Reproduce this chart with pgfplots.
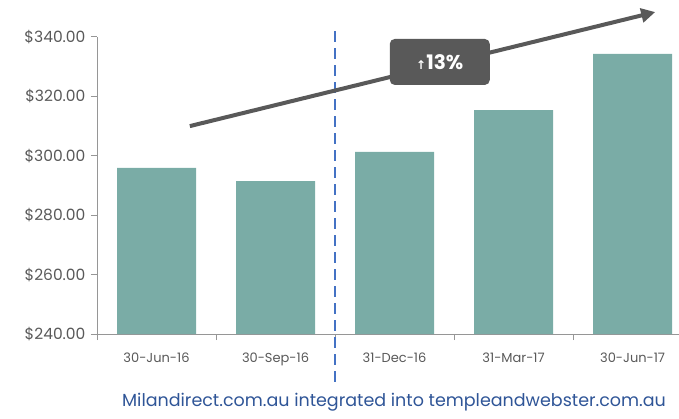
\documentclass[border=0pt]{standalone}
\usepackage{pgfplots}
\pgfplotsset{compat=1.18}
\usetikzlibrary{arrows.meta}
\usepackage{fontspec}
\setmainfont{Poppins}
\newfontfamily\symfont{DejaVu Sans}
\definecolor{barc}{RGB}{122,172,166}
\definecolor{axc}{RGB}{150,150,150}
\definecolor{txt}{RGB}{89,89,89}
\definecolor{boxc}{RGB}{89,89,89}
\definecolor{dashc}{RGB}{68,114,196}
\definecolor{foot}{RGB}{47,85,151}
\begin{document}
\begin{tikzpicture}[x=1pt,y=1pt]
\useasboundingbox (0,0) rectangle (679,418);
\begin{axis}[
  at={(97pt,84pt)}, anchor=south west,
  scale only axis, width=582pt, height=297pt,
  xmin=-0.5, xmax=4.39, ymin=240, ymax=340,
  axis x line*=bottom, axis y line*=left,
  axis line style={axc, line width=1pt},
  every outer x axis line/.append style={-}, every outer y axis line/.append style={-},
  xtick={0,1,2,3,4},
  xticklabels={30-Jun-16,30-Sep-16,31-Dec-16,31-Mar-17,30-Jun-17},
  major x tick style={draw=none},
  minor xtick={-0.5,0.5,1.5,2.5,3.5},
  minor x tick style={axc, line width=1pt},
  minor tick length=6pt,
  xticklabel style={font=\fontsize{13}{15}\selectfont, text=txt, yshift=-9pt},
  ytick={240,260,...,340},
  yticklabel={\$\pgfmathprintnumber[fixed,fixed zerofill,precision=2]{\tick}},
  /pgf/number format/assume math mode=true,
  yticklabel style={font=\fontsize{15.5}{17}\selectfont, text=txt, xshift=-2pt},
  major y tick style={axc, line width=1pt},
  tick align=outside, major tick length=6pt,
  ybar, bar width=79pt, bar shift=0pt,
  clip=false,
]
\addplot[fill=barc, draw=none] coordinates {(0,295.9) (1,291.5) (2,301.3) (3,315.4) (4,334.3)};
\draw[dashc, line width=1.8pt, dash pattern=on 11pt off 6pt] (axis cs:1.5,342) -- (axis cs:1.5,222);
\draw[boxc, line width=4pt, -{Triangle[length=14pt,width=14pt]}] (axis cs:0.28,310) -- (axis cs:4.19,348.4);
\node[fill=boxc, rounded corners=5pt, minimum width=100pt, minimum height=46pt, text=white, font=\fontsize{20}{22}\selectfont\bfseries] at (axis cs:2.38,331.6) {{\symfont\fontsize{12}{13}\selectfont\bfseries ↑}13\%};
\end{axis}
\node[text=foot, font=\fontsize{17.5}{20}\selectfont] at (394,16) {Milandirect.com.au integrated into templeandwebster.com.au};
\end{tikzpicture}
\end{document}
